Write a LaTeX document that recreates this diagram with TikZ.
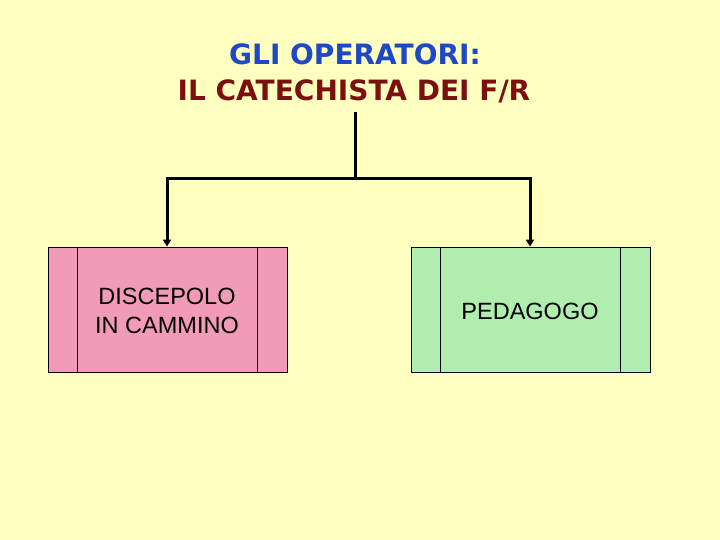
\documentclass[tikz,border=0pt]{standalone}
\usepackage{fontspec}
\setmainfont{Liberation Sans}
\newfontfamily\titlefont{DejaVu Sans}
\usetikzlibrary{arrows.meta}
\definecolor{bg}{HTML}{FFFFC0}
\definecolor{pinkbox}{HTML}{F29BB8}
\definecolor{greenbox}{HTML}{B0EEB0}
\definecolor{titleblue}{HTML}{1F48C8}
\definecolor{titlered}{HTML}{7A1010}
\tikzset{
  panel/.style={draw=black, line width=0.8pt, minimum width=239pt, minimum height=125pt, inner sep=0pt},
  conn/.style={line width=3pt, draw=black},
  arr/.style={conn, -{Triangle[length=7pt,width=8pt]}},
  boxtext/.style={font=\fontsize{23.5}{28.5}\selectfont, align=center, text=black},
  titletext/.style={font=\titlefont\bfseries\fontsize{28}{32}\selectfont}
}
\begin{document}
\begin{tikzpicture}[x=1pt,y=-1pt]
\fill[bg] (0,0) rectangle (720,540);
\useasboundingbox (0,0) rectangle (720,540);
\node[titletext, text=titleblue] (t1) at (355,54) {GLI OPERATORI:};
\node[titletext, text=titlered] (t2) at (354,91) {IL CATECHISTA DEI F/R};
\node[panel, fill=pinkbox] (left) at (167.5,309.5) {};
\node[panel, fill=greenbox] (right) at (530.5,309.5) {};
\draw[line width=0.8pt] (77,247) -- (77,372) (257,247) -- (257,372);
\draw[line width=0.8pt] (440,247) -- (440,372) (620,247) -- (620,372);
\node[boxtext] (lt) at (167,311) {DISCEPOLO\\IN CAMMINO};
\node[boxtext] (rt) at (530,311) {PEDAGOGO};
\coordinate (top) at (355,112);
\coordinate (mid) at (355,179);
\coordinate (lc) at (167,179);
\coordinate (rc) at (530,179);
\draw[conn] (top) -- (mid);
\draw[conn, line cap=rect] (lc) -- (rc);
\draw[arr] (lc) -- (left.north -| lc);
\draw[arr] (rc) -- (right.north -| rc);
\end{tikzpicture}
\end{document}
